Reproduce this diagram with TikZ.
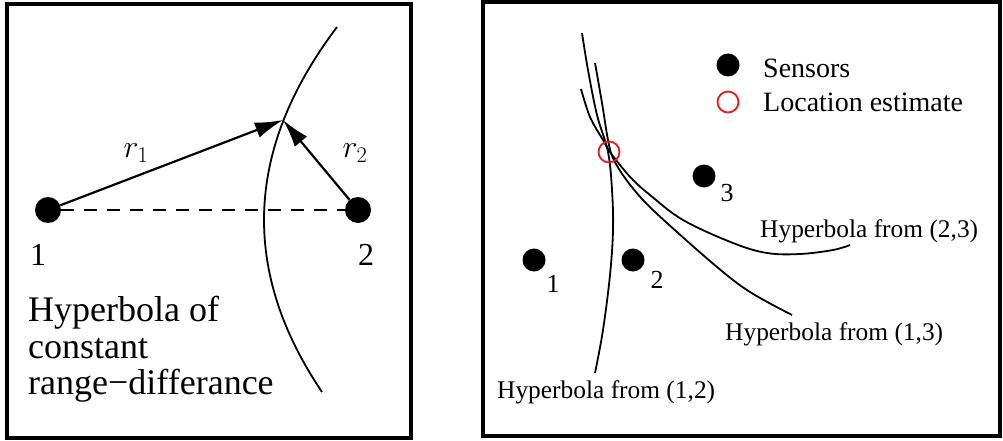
\RequirePackage{fix-cm}
\documentclass[tikz,border=0pt]{standalone}
\usepackage{fontspec}
\setmainfont{Liberation Serif}
\usetikzlibrary{arrows.meta,positioning}
\definecolor{Ink}{HTML}{000000}
\definecolor{Estimate}{HTML}{F01818}
\tikzset{
  panel/.style={draw=Ink, line width=4pt},
  sensor/.style={circle, fill=Ink, minimum size=26pt, inner sep=0pt},
  smallsensor/.style={circle, fill=Ink, minimum size=23pt, inner sep=0pt},
  estimate/.style={circle, draw=Estimate, line width=1.8pt, minimum size=21pt, inner sep=0pt},
  curve/.style={draw=Ink, line width=1.8pt},
  rangearrow/.style={-{Latex[length=28pt,width=16pt]}, line width=2.2pt, draw=Ink},
  axisline/.style={draw=Ink, line width=1.6pt, dash pattern=on 13pt off 10pt},
  bigtext/.style={font=\fontsize{36}{36.5}\selectfont, align=left, inner sep=0pt},
  idtext/.style={font=\fontsize{32}{32}\selectfont, inner sep=0pt},
  legendtext/.style={font=\fontsize{28}{28}\selectfont, inner sep=0pt, anchor=base west},
  curvetext/.style={font=\fontsize{25.4}{25.4}\selectfont, inner sep=0pt, anchor=base west},
  sensorid/.style={font=\fontsize{26}{26}\selectfont, inner sep=0pt}
}

\begin{document}
\begin{tikzpicture}[x=1pt,y=-1pt]
    \useasboundingbox (0,0) rectangle (1003,441);
    % left: one pair of sensors
    \draw[panel] (7,4) rectangle (411,438);
    \node[sensor] (a) at (48,210) {};
    \node[sensor] (b) at (358,210) {};
    \coordinate (meet) at (283,120);
    \draw[axisline] (a)--(b);
    \draw[curve] plot[domain=-193:172,samples=60] ({264+19.6*(\x/100)^2},{220+\x});
    \draw[rangearrow] (a)--(meet);
    \draw[rangearrow] (b)--(meet);
    \node[idtext] (ra) at (136,153) {$r_1$};
    \node[idtext] (rb) at (355,153) {$r_2$};
    \node[idtext] (ida) at (38,255) {1};
    \node[idtext] (idb) at (366,255) {2};
    \node[bigtext,anchor=north west] (note) at (28,296) {Hyperbola of\\constant\\range−differance};
    % right: three sensors
    \draw[panel] (483,2) rectangle (1000,436);
    \draw[curve] plot[smooth,tension=0.6] coordinates {(582,33) (588,70) (597,115) (608,152) (612,190) (613,230) (610,275) (603,330) (595,373)};
    \draw[curve] plot[smooth,tension=0.6] coordinates {(595,63) (602,103) (608,140) (613,158) (625,178) (643,200) (667,223) (717,267) (750,292) (792,315)};
    \draw[curve] plot[smooth,tension=0.6] coordinates {(581,89) (590,117) (603,140) (610,152) (620,165) (633,180) (650,195) (683,220) (733,243) (767,253) (800,254) (833,250) (850,245)};
    \node[smallsensor] (s1) at (534,260) {};
    \node[smallsensor] (s2) at (633,260) {};
    \node[smallsensor] (s3) at (704,176) {};
    \node[sensorid] (id1) at (553,284) {1};
    \node[sensorid] (id2) at (657,280) {2};
    \node[sensorid] (id3) at (727,193) {3};
    \node[estimate] (est) at (609,152) {};
    \node[smallsensor] (keydot) at (728,65) {};
    \node[estimate] (keyring) at (728,102) {};
    \node[legendtext] (keya) at (763,78) {Sensors};
    \node[legendtext] (keyb) at (763,112) {Location estimate};
    \node[curvetext] (h23) at (760,237) {Hyperbola from (2,3)};
    \node[curvetext] (h13) at (725,340) {Hyperbola from (1,3)};
    \node[curvetext] (h12) at (497,398) {Hyperbola from (1,2)};
  \end{tikzpicture}
\end{document}
